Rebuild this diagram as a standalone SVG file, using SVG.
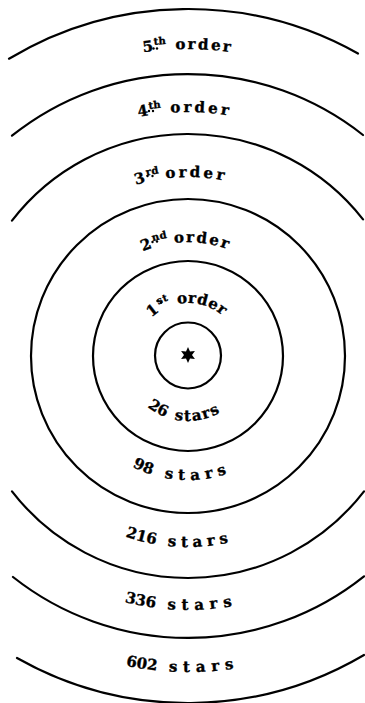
<svg xmlns="http://www.w3.org/2000/svg" width="365" height="703" viewBox="0 0 365 703">
<style>
.ring{fill:none;stroke:#000;stroke-width:2.2;stroke-linecap:round}
.lbl{font-family:"DejaVu Serif","Liberation Serif",serif;font-weight:bold;font-size:15px;fill:#000;stroke:#000;stroke-width:0.35}
.sup{font-size:10px}
.dot{fill:#000}
</style>
<defs>
<path id="t5" d="M -119,356 A 307,307 0 0 1 495,356"/>
<path id="t4" d="M -56,356 A 244,244 0 0 1 432,356"/>
<path id="t3" d="M 9,356 A 179,179 0 0 1 367,356"/>
<path id="t2" d="M 74,356 A 114,114 0 0 1 302,356"/>
<path id="t1" d="M 135,356 A 53,53 0 0 1 241,356"/>
<path id="b1" d="M 123,356 A 65,65 0 0 0 253,356"/>
<path id="b2" d="M 64,356 A 124,124 0 0 0 312,356"/>
<path id="b3" d="M -3,356 A 191,191 0 0 0 379,356"/>
<path id="b4" d="M -66,356 A 254,254 0 0 0 442,356"/>
<path id="b5" d="M -128,356 A 316,316 0 0 0 504,356"/>
</defs>
<g id="rings">
<path class="ring" d="M 9,58.7 A 347,347 0 0 1 358,53.5"/>
<path class="ring" d="M 17,658 A 347,347 0 0 0 364,655"/>
<path class="ring" d="M 12,135.7 A 282,282 0 0 1 363,135"/>
<path class="ring" d="M 13,577 A 282,282 0 0 0 364,576.3"/>
<path class="ring" d="M 12,220.7 A 222,222 0 0 1 363,219.4"/>
<path class="ring" d="M 12,491.3 A 222,222 0 0 0 364,491.3"/>
<circle class="ring" cx="188" cy="356" r="157"/>
<circle class="ring" cx="188" cy="356" r="95"/>
<circle class="ring" cx="188" cy="355.5" r="33"/>
</g>
<g id="sun">
<polygon fill="#000" transform="translate(188,355)" points="0,-8 2,-3.46 6.93,-4 4,0 6.93,4 2,3.46 0,8 -2,3.46 -6.93,4 -4,0 -6.93,-4 -2,-3.46"/>
</g>
<g id="order5">
<text class="lbl"><textPath href="#t5" startOffset="481.8" text-anchor="middle">5<tspan class="sup" dy="-6" dx="1">th</tspan><tspan dy="6" dx="9" letter-spacing="2.3">order</tspan></textPath></text>
<circle class="dot" cx="153.5" cy="48.5" r="1.2"/><circle class="dot" cx="157" cy="48.5" r="1.2"/>
</g>
<g id="order4">
<text class="lbl"><textPath href="#t4" startOffset="379.8" text-anchor="middle">4<tspan class="sup" dy="-6" dx="1">th</tspan><tspan dy="6" dx="9" letter-spacing="3">order</tspan></textPath></text>
<circle class="dot" cx="149" cy="111" r="1.2"/><circle class="dot" cx="153" cy="111" r="1.2"/>
</g>
<g id="order3">
<text class="lbl"><textPath href="#t3" startOffset="273.9" text-anchor="middle">3<tspan class="sup" dy="-6" dx="2">rd</tspan><tspan dy="6" dx="6" letter-spacing="3">order</tspan></textPath></text>
<circle class="dot" cx="147.5" cy="176" r="1.2"/><circle class="dot" cx="152.5" cy="176" r="1.2"/>
</g>
<g id="order2">
<text class="lbl"><textPath href="#t2" startOffset="176.6" text-anchor="middle">2<tspan class="sup" dy="-6" dx="2">nd</tspan><tspan dy="6" dx="6" letter-spacing="2">order</tspan></textPath></text>
<circle class="dot" cx="152.5" cy="242" r="1.2"/><circle class="dot" cx="157" cy="241.5" r="1.2"/>
</g>
<g id="order1">
<text class="lbl"><textPath href="#t1" startOffset="81.75" text-anchor="middle">1<tspan class="sup" dy="-6" dx="2">st</tspan><tspan dy="6" dx="7" letter-spacing="0.5">order</tspan></textPath></text>
<circle class="dot" cx="157.5" cy="301" r="1.2"/><circle class="dot" cx="161" cy="302.5" r="1.2"/>
</g>
<g id="stars1">
<text class="lbl"><textPath href="#b1" startOffset="97.6" text-anchor="middle">26<tspan dx="9" letter-spacing="1.5">stars</tspan></textPath></text>
</g>
<g id="stars2">
<text class="lbl"><textPath href="#b2" startOffset="188.3" text-anchor="middle">98<tspan dx="13" letter-spacing="5.5">stars</tspan></textPath></text>
</g>
<g id="stars3">
<text class="lbl"><textPath href="#b3" startOffset="291" text-anchor="middle">216<tspan dx="12" letter-spacing="5">stars</tspan></textPath></text>
</g>
<g id="stars4">
<text class="lbl"><textPath href="#b4" startOffset="392" text-anchor="middle">336<tspan dx="12" letter-spacing="6">stars</tspan></textPath></text>
</g>
<g id="stars5">
<text class="lbl"><textPath href="#b5" startOffset="490.9" text-anchor="middle">602<tspan dx="12" letter-spacing="6">stars</tspan></textPath></text>
</g>
</svg>
